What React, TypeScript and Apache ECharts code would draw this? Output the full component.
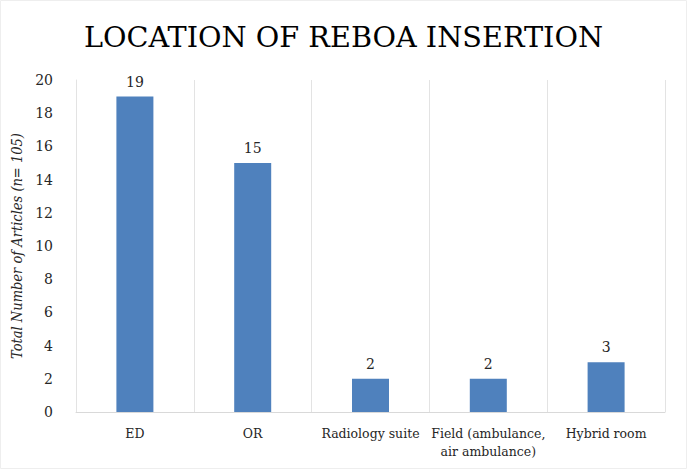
import React, { useEffect, useRef } from "react";
import * as echarts from "echarts";

const titleText = "LOCATION OF REBOA INSERTION";
const categories = ["ED", "OR", "Radiology suite", "Field (ambulance,\nair ambulance)", "Hybrid room"];
const values = [19, 15, 2, 2, 3];
const yAxisName = "Total Number of Articles (n= 105)";
const yMin = 0;
const yMax = 20;
const yInterval = 2;

export default function App() {
  const ref = useRef<HTMLDivElement>(null);
  useEffect(() => {
    if (!ref.current) return;
    const chart = echarts.init(ref.current, undefined, { renderer: "svg" });
    const labelFont = "DejaVu Serif";
    chart.setOption({
      animation: false,
      backgroundColor: "#ffffff",
      title: {
        text: titleText,
        left: "center",
        top: 17,
        textStyle: {
          fontFamily: "DejaVu Serif",
          fontSize: 28.7,
          fontWeight: "normal",
          color: "#000000",
        },
      },
      grid: { left: 76, right: 22, top: 80, bottom: 57 },
      xAxis: {
        type: "category",
        data: categories,
        axisLine: { show: true, lineStyle: { color: "#d9d9d9", width: 1 } },
        axisTick: { show: false },
        splitLine: { show: true, lineStyle: { color: "#e3e3e3", width: 1 } },
        axisLabel: {
          interval: 0,
          margin: 12,
          color: "#262626",
          fontFamily: labelFont,
          fontSize: 12.5,
          lineHeight: 18,
        },
      },
      yAxis: {
        type: "value",
        min: yMin,
        max: yMax,
        interval: yInterval,
        name: yAxisName,
        nameLocation: "middle",
        nameGap: 42,
        nameRotate: 90,
        nameTextStyle: {
          fontFamily: "DejaVu Serif Condensed, DejaVu Serif",
          fontStyle: "italic",
          fontSize: 14.5,
          color: "#262626",
        },
        axisLine: { show: true, lineStyle: { color: "#e3e3e3" } },
        axisTick: { show: false },
        splitLine: { show: false },
        axisLabel: {
          margin: 23,
          color: "#262626",
          fontFamily: labelFont,
          fontSize: 14,
        },
      },
      series: [
        {
          type: "bar",
          data: values,
          barWidth: 37,
          itemStyle: { color: "#4f81bd" },
          label: {
            show: true,
            position: "top",
            distance: 8,
            color: "#262626",
            fontFamily: labelFont,
            fontSize: 14,
          },
        },
      ],
      graphic: [
        {
          type: "rect",
          shape: { x: 0.5, y: 0.5, width: 686, height: 468 },
          style: { fill: "none", stroke: "#eeeeee", lineWidth: 1 },
          silent: true,
        },
      ],
    });
    return () => chart.dispose();
  }, []);
  return <div ref={ref} style={{ width: 687, height: 469, position: "absolute", left: 0, top: 0 }} />;
}
